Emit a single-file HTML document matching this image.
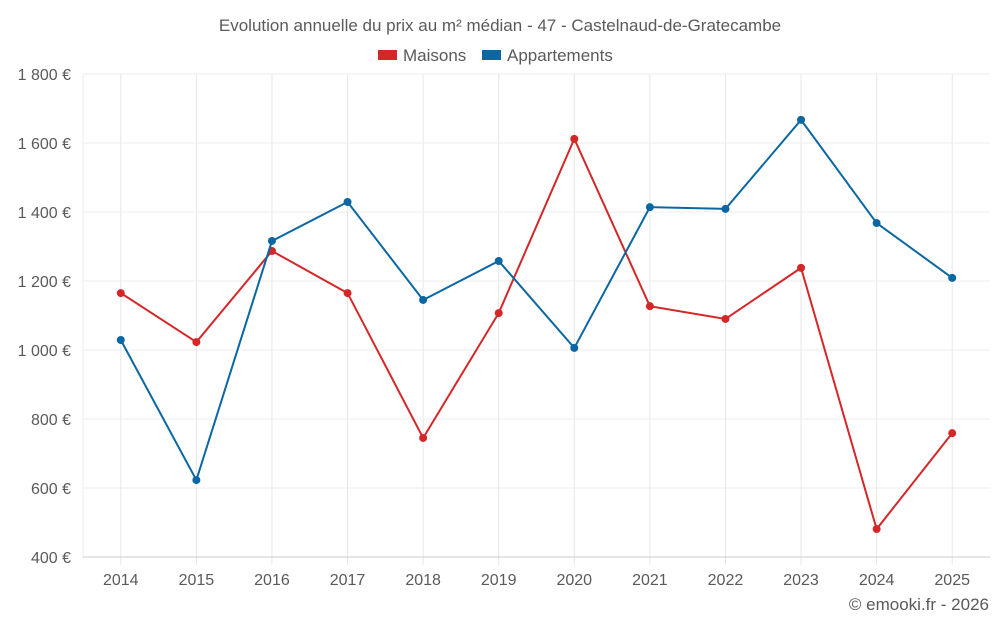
<!DOCTYPE html>
<html><head><meta charset="utf-8">
<style>
body{margin:0;background:#fff;font-family:"Liberation Sans",sans-serif;}
svg text{font-family:"Liberation Sans",sans-serif;fill:#5a5a5a;}
</style></head>
<body>
<svg id="chart" width="1000" height="625">
<text x="500" y="31" text-anchor="middle" font-size="17">Evolution annuelle du prix au m² médian - 47 - Castelnaud-de-Gratecambe</text>
<g>
<rect x="378" y="50" width="19" height="10" fill="#d62728"/>
<text x="403" y="61" font-size="17">Maisons</text>
<rect x="482" y="50" width="19" height="10" fill="#0b67a3"/>
<text x="507" y="61" font-size="17">Appartements</text>
</g>
<g id="grid"></g><g id="axes"></g><g id="series"></g>
<text x="989" y="610" text-anchor="end" font-size="17">© emooki.fr - 2026</text>
</svg>
<script>
const years=["2014","2015","2016","2017","2018","2019","2020","2021","2022","2023","2024","2025"];
const maisons=[1165,1023,1287,1165,745,1107,1612,1127,1090,1238,481,759];
const appartements=[1029,623,1316,1429,1145,1258,1006,1414,1409,1667,1368,1209];
const yTicks=[400,600,800,1000,1200,1400,1600,1800];
const yTickLabels=["400 €","600 €","800 €","1 000 €","1 200 €","1 400 €","1 600 €","1 800 €"];
const NS="http://www.w3.org/2000/svg";
const L=83,R=990,T=74,B=557,yMin=400,yMax=1800;
const step=(R-L)/years.length;
const x=i=>L+step*(i+0.5);
const y=v=>B-(v-yMin)/(yMax-yMin)*(B-T);
function mk(tag,attrs,parent){const e=document.createElementNS(NS,tag);for(const k in attrs)e.setAttribute(k,attrs[k]);parent.appendChild(e);return e;}
const grid=document.getElementById('grid'),axes=document.getElementById('axes'),ser=document.getElementById('series');
const lg=mk('line',{x1:L,x2:L,y1:T,y2:B,stroke:'#ececec','stroke-width':1},grid);


years.forEach((yr,i)=>{
 const l=mk('line',{x1:x(i),x2:x(i),y1:T,y2:B+8,stroke:'#e6e6e6','stroke-width':1},grid);
 
 
 const t=mk('text',{x:x(i),y:585,'text-anchor':'middle','font-size':16},axes);
 t.textContent=yr;
 
 
});
yTicks.forEach((v,i)=>{
 const l=mk('line',{x1:L,x2:R,y1:y(v),y2:y(v),stroke:i==0?'#ccc':'#ececec','stroke-width':1},grid);
 
 
 const t=mk('text',{x:71,y:y(v)+6,'text-anchor':'end','font-size':16},axes);
 t.textContent=yTickLabels[i];
 
 
});
function draw(data,color,name){
 const p=mk('polyline',{points:data.map((v,i)=>x(i)+','+y(v)).join(' '),fill:'none',stroke:color,'stroke-width':2},ser);
 
 
 data.forEach((v,i)=>{
  const c=mk('circle',{cx:x(i),cy:y(v),r:4,fill:color},ser);
  
  
 });
}
draw(maisons,'#d62728','maisons');
draw(appartements,'#0b67a3','appartements');
</script>
</body></html>
